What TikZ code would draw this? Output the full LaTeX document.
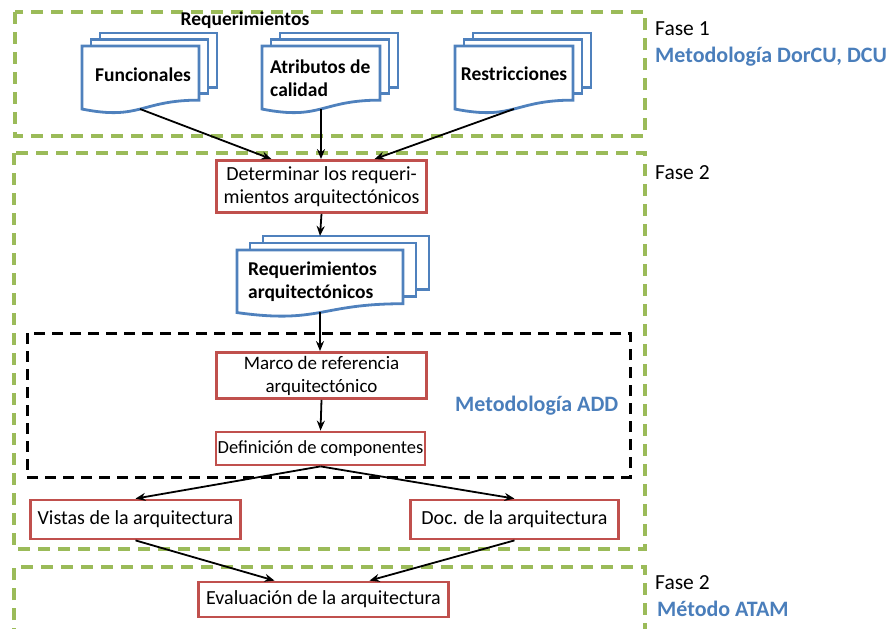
\documentclass[tikz,border=0pt]{standalone}
\usepackage{fontspec}
\setmainfont{Carlito}
\usetikzlibrary{arrows.meta,calc}

\definecolor{phasegreen}{HTML}{9BBB59}
\definecolor{boxred}{HTML}{C0504D}
\definecolor{docblue}{HTML}{4F81BD}
\definecolor{labelblue}{HTML}{4A7EBB}

% front sheet of a document stack: left, top, right, height
\newcommand{\docfront}[4]{%
  \draw[docline] (#1,#2) -- (#3,#2) -- (#3,{#2+0.802*#4})
    .. controls ({(#1+#3)/2},{#2+0.802*#4}) and ({(#1+#3)/2},{#2+1.107*#4}) ..
    (#1,{#2+0.934*#4}) -- cycle;}
% a sheet behind the front one: left, top, right, height, shift x, shift y
\newcommand{\docback}[6]{%
  \draw[docline] ({#1+#5},{#2-#6}) rectangle ({#3+#5},{#2-#6+0.802*#4});}
% whole stack of three sheets
\newcommand{\docstack}[6]{%
  \docback{#1}{#2}{#3}{#4}{2*#5}{2*#6}%
  \docback{#1}{#2}{#3}{#4}{#5}{#6}%
  \docfront{#1}{#2}{#3}{#4}}

\begin{document}
\begin{tikzpicture}[x=1pt,y=-1pt,
  phase/.style={draw=phasegreen, line width=3.2pt, dash pattern=on 12pt off 8pt},
  addbox/.style={draw=black, line width=3pt, dash pattern=on 11pt off 7pt},
  redbox/.style={draw=boxred, line width=2.8pt, fill=white, inner sep=0pt,
    font=\fontsize{20}{23}\selectfont, align=center},
  docline/.style={draw=docblue, line width=2.8pt, fill=white},
  doctext/.style={font=\bfseries\fontsize{19.5}{23}\selectfont, align=left, inner sep=0pt},
  link/.style={line width=1.8pt, -{Stealth[length=10pt,width=8pt]}},
  phasetitle/.style={anchor=base west, font=\fontsize{21.5}{24}\selectfont, inner sep=0pt},
  method/.style={anchor=base west, text=labelblue, font=\bfseries\fontsize{22}{24}\selectfont, inner sep=0pt}]
\useasboundingbox (0,0) rectangle (894,629);

% phase frames
\draw[phase] (15,12) rectangle (645,136);
\draw[phase] (14,153) rectangle (645,549);
\draw[phase] (14,640) -- (14,567) -- (645,567) -- (645,640);
% ADD frame
\draw[addbox] (27,333) rectangle (630,477);

% phase labels
\node[phasetitle] (f1) at (655,35) {Fase 1};
\node[method] (m1) at (655,62) {Metodología DorCU, DCU};
\node[phasetitle] (f2) at (655,179) {Fase 2};
\node[method] (madd) at (455,411) {Metodología ADD};
\node[phasetitle] (f3) at (655,589) {Fase 2};
\node[method] (matam) at (657,616) {Método ATAM};

% requirement sources
\node[doctext] (reqtitle) at (245,20) {Requerimientos};
\docstack{82}{46}{199}{67.5}{9}{6.5}
\docstack{262}{46}{380}{67.5}{9}{6.5}
\docstack{455}{46}{573}{67.5}{9}{6.5}
\node[doctext] (fun) at (143,75) {Funcionales};
\node[doctext, anchor=west] (atr) at (270,78) {Atributos de\\calidad};
\node[doctext] (res) at (514,74) {Restricciones};
\coordinate (funout) at (140,109);
\coordinate (atrout) at (321,109);
\coordinate (resout) at (514,109);

% process boxes
\node[redbox, minimum width=210pt, minimum height=52pt] (det) at (321.5,186.5)
  {Determinar los requeri-\\mientos arquitectónicos};
\docstack{237}{250}{403}{67}{13}{7}
\node[doctext, anchor=west] (reqarq) at (248,282) {Requerimientos\\arquitectónicos};
\coordinate (reqtop) at (320,236);
\coordinate (reqout) at (320,312);
\node[redbox, minimum width=210pt, minimum height=46pt, font=\fontsize{19}{23}\selectfont] (marco) at (321.5,375.5)
  {Marco de referencia\\arquitectónico};
\node[redbox, minimum width=209pt, minimum height=33pt, font=\fontsize{18.5}{22}\selectfont] (defi) at (320.5,448.5)
  {Definición de componentes};
\node[redbox, minimum width=210pt, minimum height=39pt] (vistas) at (135.5,519.5)
  {Vistas de la arquitectura};
\node[redbox, minimum width=208pt, minimum height=39pt] (docarq) at (514.5,519.5)
  {Doc. de la arquitectura};
\node[redbox, minimum width=250pt, minimum height=35pt] (eval) at (323.5,599.5)
  {Evaluación de la arquitectura};

% connectors
\draw[link] (funout) -- ($(det.north)+(-50,0)$);
\draw[link] (atrout) -- (atrout |- det.north);
\draw[link] (resout) -- ($(det.north)+(53,0)$);
\draw[link] (det.south) -- (reqtop);
\draw[link] (reqout) -- (reqout |- marco.north);
\draw[link] (marco.south) -- (defi.north);
\draw[link] (defi.south) -- (vistas.north);
\draw[link] (defi.south) -- (docarq.north);
\draw[link] (vistas.south) -- ($(eval.north)+(-49,0)$);
\draw[link] (docarq.south) -- ($(eval.north)+(46,0)$);
\end{tikzpicture}
\end{document}
